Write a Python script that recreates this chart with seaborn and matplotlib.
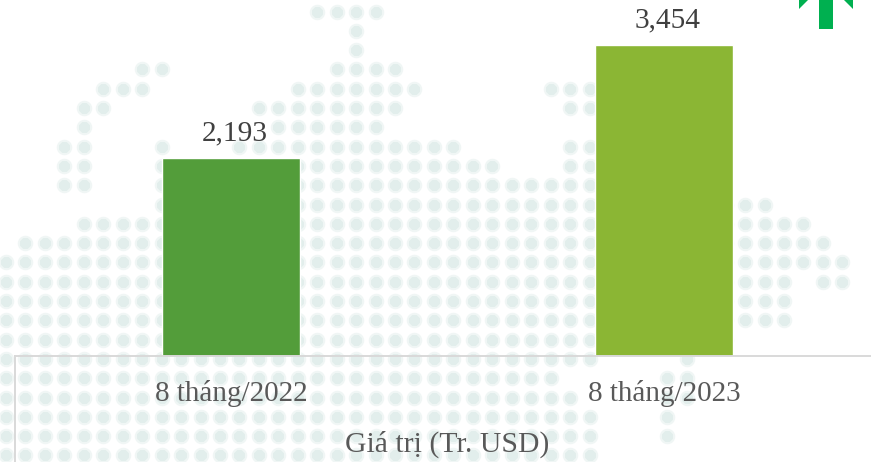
import pandas as pd
import seaborn as sns
import matplotlib.pyplot as plt
from matplotlib.patches import Polygon

# chart values
periods = ['8 tháng/2022', '8 tháng/2023']
values = [2193, 3454]
bar_colors = ['#539D3A', '#8BB634']
x_title = 'Giá trị (Tr. USD)'

# background dot map: column ranges for each row of the grid
map_rows = [
    [(16, 19)],
    [(18, 18)],
    [(18, 18)],
    [(7, 8), (17, 20)],
    [(5, 7), (15, 21), (28, 30)],
    [(4, 5), (13, 20), (29, 30)],
    [(4, 4), (14, 19)],
    [(3, 4), (8, 8), (12, 23), (29, 30)],
    [(3, 4), (8, 25), (29, 30)],
    [(3, 4), (8, 30)],
    [(8, 39)],
    [(4, 41)],
    [(1, 42)],
    [(0, 43)],
    [(0, 40), (42, 43)],
    [(0, 40)],
    [(0, 40)],
    [(0, 37)],
    [(0, 30), (35, 35)],
    [(0, 28), (34, 35)],
    [(0, 29), (34, 35)],
    [(0, 30), (34, 34)],
    [(0, 30), (34, 34)],
    [(0, 30)],
]

rows = []
for j, spans in enumerate(map_rows):
    for start, end in spans:
        for i in range(start, end + 1):
            rows.append((6 + 19.45 * i, 11.5 + 19.3 * j))
dots = pd.DataFrame(rows, columns=['x', 'y'])

sns.set_theme(style='white')
plt.rcParams['font.family'] = ['Liberation Serif', 'DejaVu Serif']

fig = plt.figure(figsize=(8.71, 4.62), dpi=100)

# pixel-scaled layer for the map and the arrow
bg = fig.add_axes([0, 0, 1, 1], zorder=0)
sns.scatterplot(data=dots, x='x', y='y', ax=bg, s=125, marker='o',
                color='#f0f6f5', linewidth=0, legend=False)
sns.scatterplot(data=dots, x='x', y='y', ax=bg, s=72, marker='8',
                color='#e2eeec', linewidth=0, legend=False)
bg.set_xlim(0, 871)
bg.set_ylim(462, 0)
bg.axis('off')

arrow = '#00B050'
bg.add_patch(Polygon([(819, 0), (833, 0), (833, 29), (819, 29)], color=arrow, lw=0))
bg.add_patch(Polygon([(799, 9), (808, 0), (799, 0)], color=arrow, lw=0))
bg.add_patch(Polygon([(853, 9), (844, 0), (853, 0)], color=arrow, lw=0))

# bars
ax = fig.add_axes([14.5 / 871, 106.5 / 462, 866 / 871, 355.5 / 462], zorder=1)
ax.patch.set_visible(False)
sns.barplot(x=periods, y=values, hue=periods, palette=bar_colors, width=0.318,
            legend=False, ax=ax, saturation=1)
ax.set_xlim(-0.5, 1.5)
ax.set_ylim(0, 3955)
ax.set_yticks([])
ax.set_ylabel('')

for c in ax.containers:
    texts = ax.bar_label(c, labels=[f'{v:,.0f}' for v in c.datavalues], padding=8.5,
                         fontsize=21.2, color='#404040')
    for t in texts:
        t.xyann = (2.5, t.xyann[1])

ax.tick_params(axis='x', length=0, pad=17.5, labelsize=21, labelcolor='#595959')
ax.set_xlabel(x_title, fontsize=21.4, color='#595959', labelpad=17.5)

sns.despine(ax=ax, left=True)
ax.spines['bottom'].set_color('#d9d9d9')
ax.spines['bottom'].set_linewidth(1.4)
ax.axvline(-0.5, ymin=-0.3, ymax=0, color='#d9d9d9', lw=1.4, clip_on=False)

fig.savefig('out.png', dpi=100)
